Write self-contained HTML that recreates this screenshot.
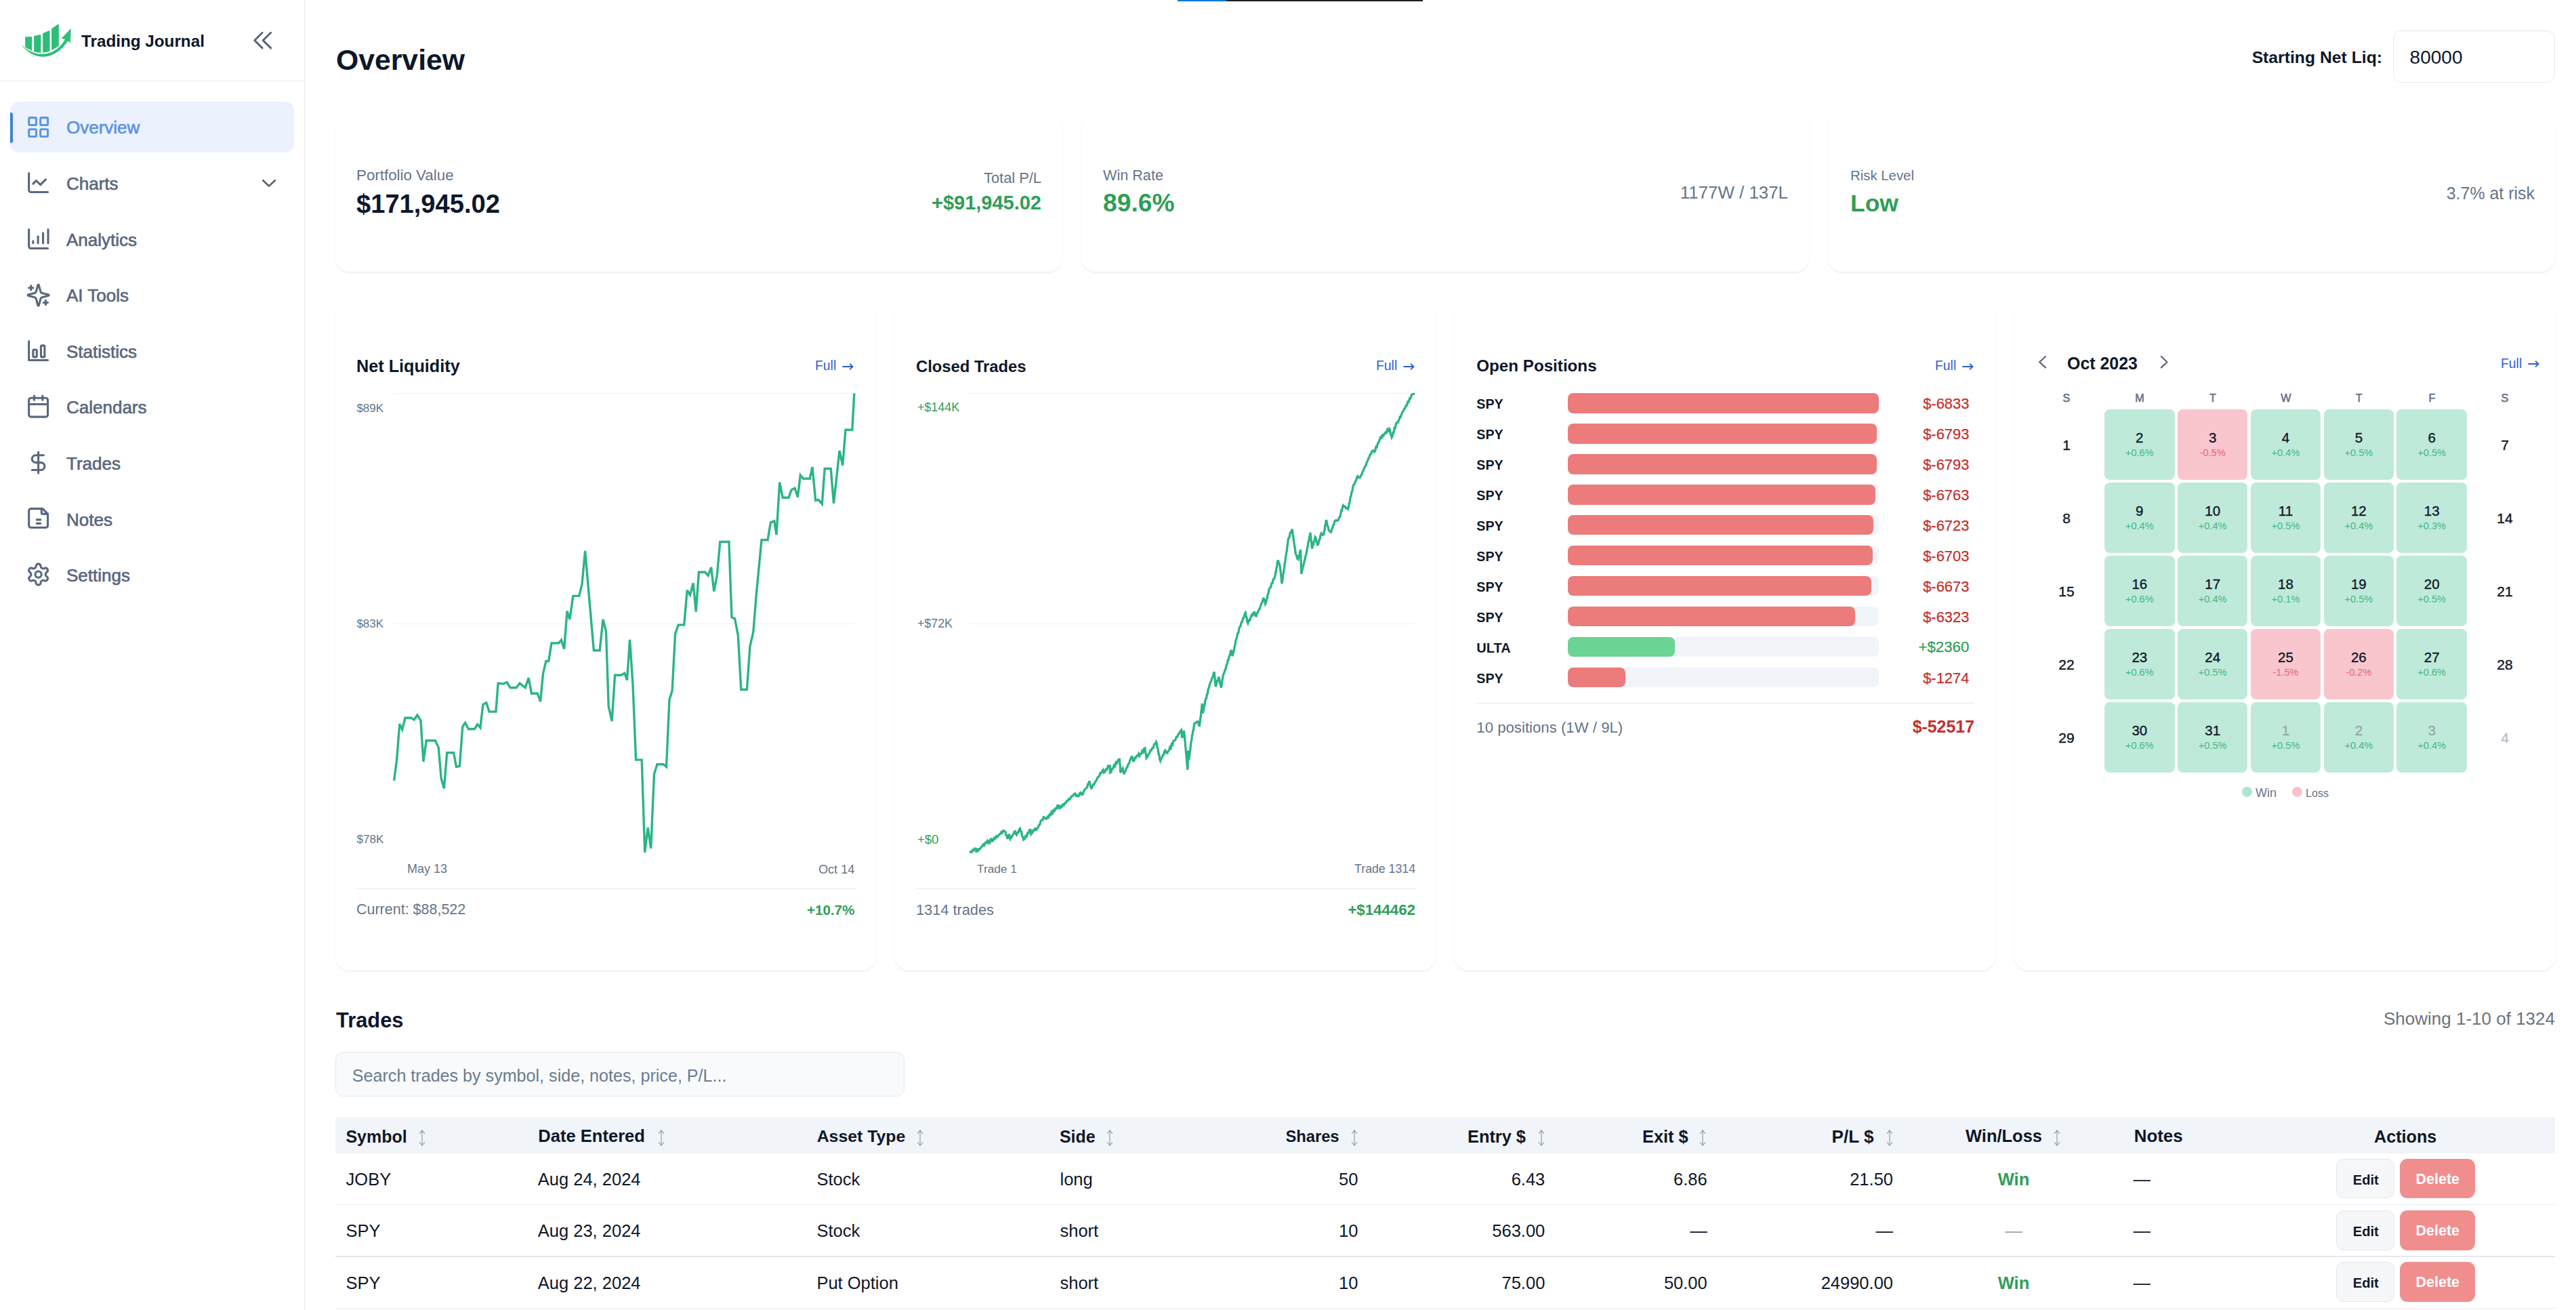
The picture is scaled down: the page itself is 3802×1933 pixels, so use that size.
<!DOCTYPE html>
<html lang="en"><head><meta charset="utf-8"><title>Trading Journal - Overview</title>
<style>
html,body{margin:0;padding:0;background:#fff;}
body{width:3802px;height:1933px;position:relative;overflow:hidden;font-family:"Liberation Sans", Arial, sans-serif;-webkit-font-smoothing:antialiased;}
.t{position:absolute;white-space:nowrap;}
.b{position:absolute;}
svg.b{overflow:visible;}
</style></head><body>
<div class="b" style="left:449.00px;top:0.00px;width:1.00px;height:1933.00px;background:#e5e7eb;"></div>
<div class="b" style="left:0.00px;top:119.00px;width:449.00px;height:1.00px;background:#e5e7eb;"></div>
<svg class="b" style="left:0;top:0" width="120" height="100" viewBox="0 0 120 100">
<g fill="#2dbe7a">
<path d="M37.1 54.5 L47.2 53.9 L47.2 74.9 Q41.5 72.8 37.1 69.6 Z"/>
<path d="M50.1 53.1 L60.3 51.1 L60.3 77.9 Q55 77.5 50.1 76.6 Z"/>
<path d="M63.1 49.1 L73.5 45 L73.5 75.6 Q68.5 77.3 63.1 77.8 Z"/>
<path d="M76.1 42.2 L86.8 35.1 L86.8 67.4 Q81.8 71.5 76.1 74.2 Z"/>
<path d="M30.6 65.2 C40 77.5 52 83.8 64 83.8 C78 83.6 91 75 100.8 59.6 L96.6 57.4 C88.5 71 77 79.2 63.5 79.8 C51.5 80.2 40.5 74.8 30.6 65.2 Z"/>
<path d="M90.8 56.4 L104.7 42 L103.8 63 L98.2 59.3 Z"/>
</g></svg>
<div class="t" style="top:49.46px;font-size:24.26px;line-height:24.26px;font-weight:700;color:#0f172a;left:120.00px;">Trading Journal</div>
<svg class="b" style="left:360px;top:35px" width="60" height="50" viewBox="360 35 60 50" fill="none" stroke="#5b6577" stroke-width="2.9" stroke-linecap="round" stroke-linejoin="round">
<polyline points="387.1,48.2 375.8,59.6 387.1,70.9"/><polyline points="399.7,48.2 388.2,59.6 399.7,70.9"/></svg>
<div class="b" style="left:15.00px;top:150.00px;width:419.00px;height:75.00px;background:#ebf2fd;border-radius:13px;"></div>
<div class="b" style="left:15.00px;top:165.50px;width:4.00px;height:45.00px;background:#3f7fe0;border-radius:0 3px 3px 0;"></div>
<div class="t" style="top:175.49px;font-size:26px;line-height:26px;font-weight:400;color:#5b91e4;left:98.00px;-webkit-text-stroke:0.65px #5b91e4;">Overview</div>
<div class="t" style="top:258.09px;font-size:26px;line-height:26px;font-weight:400;color:#5a677e;left:98.00px;-webkit-text-stroke:0.65px #5a677e;">Charts</div>
<div class="t" style="top:340.69px;font-size:26px;line-height:26px;font-weight:400;color:#5a677e;left:98.00px;-webkit-text-stroke:0.65px #5a677e;">Analytics</div>
<div class="t" style="top:423.29px;font-size:26px;line-height:26px;font-weight:400;color:#5a677e;left:98.00px;-webkit-text-stroke:0.65px #5a677e;">AI Tools</div>
<div class="t" style="top:505.89px;font-size:26px;line-height:26px;font-weight:400;color:#5a677e;left:98.00px;-webkit-text-stroke:0.65px #5a677e;">Statistics</div>
<div class="t" style="top:588.49px;font-size:26px;line-height:26px;font-weight:400;color:#5a677e;left:98.00px;-webkit-text-stroke:0.65px #5a677e;">Calendars</div>
<div class="t" style="top:671.09px;font-size:26px;line-height:26px;font-weight:400;color:#5a677e;left:98.00px;-webkit-text-stroke:0.65px #5a677e;">Trades</div>
<div class="t" style="top:753.69px;font-size:26px;line-height:26px;font-weight:400;color:#5a677e;left:98.00px;-webkit-text-stroke:0.65px #5a677e;">Notes</div>
<div class="t" style="top:836.29px;font-size:26px;line-height:26px;font-weight:400;color:#5a677e;left:98.00px;-webkit-text-stroke:0.65px #5a677e;">Settings</div>
<svg class="b" style="left:37.8px;top:168.60px" width="37.2" height="37.2" viewBox="0 0 24 24" fill="none" stroke="#5b96e6" stroke-width="2" stroke-linecap="round" stroke-linejoin="round"><rect x="3" y="3" width="7" height="7" rx="1"/><rect x="14" y="3" width="7" height="7" rx="1"/><rect x="14" y="14" width="7" height="7" rx="1"/><rect x="3" y="14" width="7" height="7" rx="1"/></svg>
<svg class="b" style="left:37.8px;top:251.40px" width="37.2" height="37.2" viewBox="0 0 24 24" fill="none" stroke="#5a677e" stroke-width="2" stroke-linecap="round" stroke-linejoin="round"><path d="M3 3v16a2 2 0 0 0 2 2h16"/><path d="m19 9-5 5-4-4-3 3"/></svg>
<svg class="b" style="left:37.8px;top:334.00px" width="37.2" height="37.2" viewBox="0 0 24 24" fill="none" stroke="#5a677e" stroke-width="2" stroke-linecap="round" stroke-linejoin="round"><path d="M3 3v16a2 2 0 0 0 2 2h16"/><path d="M7 16v-2"/><path d="M11.7 16v-6.5"/><path d="M16.5 16v-9.5"/><path d="M21.3 16v-13"/></svg>
<svg class="b" style="left:37.8px;top:416.60px" width="37.2" height="37.2" viewBox="0 0 24 24" fill="none" stroke="#5a677e" stroke-width="2" stroke-linecap="round" stroke-linejoin="round"><path d="M9.937 15.5A2 2 0 0 0 8.5 14.063l-6.135-1.582a.5.5 0 0 1 0-.962L8.5 9.936A2 2 0 0 0 9.937 8.5l1.582-6.135a.5.5 0 0 1 .963 0L14.063 8.5A2 2 0 0 0 15.5 9.937l6.135 1.581a.5.5 0 0 1 0 .964L15.5 14.063a2 2 0 0 0-1.437 1.437l-1.582 6.135a.5.5 0 0 1-.963 0z" transform="translate(0,0)"/><path d="M5 3v4"/><path d="M3 5h4"/><path d="M19 17v4"/><path d="M17 19h4"/></svg>
<svg class="b" style="left:37.8px;top:499.20px" width="37.2" height="37.2" viewBox="0 0 24 24" fill="none" stroke="#5a677e" stroke-width="2" stroke-linecap="round" stroke-linejoin="round"><path d="M3 3v18h18"/><rect x="7" y="11" width="3.5" height="7" rx="1"/><rect x="14.5" y="7" width="3.5" height="11" rx="1"/></svg>
<svg class="b" style="left:37.8px;top:580.60px" width="37.2" height="37.2" viewBox="0 0 24 24" fill="none" stroke="#5a677e" stroke-width="2" stroke-linecap="round" stroke-linejoin="round"><path d="M8 2v4"/><path d="M16 2v4"/><rect x="3" y="4" width="18" height="18" rx="2"/><path d="M3 10h18"/></svg>
<svg class="b" style="left:37.8px;top:663.80px" width="37.2" height="37.2" viewBox="0 0 24 24" fill="none" stroke="#5a677e" stroke-width="2" stroke-linecap="round" stroke-linejoin="round"><path d="M12 2v20"/><path d="M17 5H9.5a3.5 3.5 0 0 0 0 7h5a3.5 3.5 0 0 1 0 7H6"/></svg>
<svg class="b" style="left:37.8px;top:745.90px" width="37.2" height="37.2" viewBox="0 0 24 24" fill="none" stroke="#5a677e" stroke-width="2" stroke-linecap="round" stroke-linejoin="round"><path d="M16 3H5a2 2 0 0 0-2 2v14a2 2 0 0 0 2 2h14a2 2 0 0 0 2-2V8Z"/><path d="M15 3v4a1 1 0 0 0 1 1h5"/><path d="M10.5 13.5h3.5"/><path d="M10.5 17h3.5"/></svg>
<svg class="b" style="left:37.8px;top:829.00px" width="37.2" height="37.2" viewBox="0 0 24 24" fill="none" stroke="#5a677e" stroke-width="2" stroke-linecap="round" stroke-linejoin="round"><path d="M12.22 2h-.44a2 2 0 0 0-2 2v.18a2 2 0 0 1-1 1.73l-.43.25a2 2 0 0 1-2 0l-.15-.08a2 2 0 0 0-2.73.73l-.22.38a2 2 0 0 0 .73 2.73l.15.1a2 2 0 0 1 1 1.72v.51a2 2 0 0 1-1 1.74l-.15.09a2 2 0 0 0-.73 2.73l.22.38a2 2 0 0 0 2.73.73l.15-.08a2 2 0 0 1 2 0l.43.25a2 2 0 0 1 1 1.73V20a2 2 0 0 0 2 2h.44a2 2 0 0 0 2-2v-.18a2 2 0 0 1 1-1.73l.43-.25a2 2 0 0 1 2 0l.15.08a2 2 0 0 0 2.73-.73l.22-.39a2 2 0 0 0-.73-2.73l-.15-.08a2 2 0 0 1-1-1.74v-.5a2 2 0 0 1 1-1.74l.15-.09a2 2 0 0 0 .73-2.73l-.22-.38a2 2 0 0 0-2.73-.73l-.15.08a2 2 0 0 1-2 0l-.43-.25a2 2 0 0 1-1-1.73V4a2 2 0 0 0-2-2z"/><circle cx="12" cy="12" r="3"/></svg>
<svg class="b" style="left:380px;top:255px" width="34" height="30" viewBox="380 255 34 30" fill="none" stroke="#555e70" stroke-width="2.6" stroke-linecap="round" stroke-linejoin="round"><polyline points="388.3,266.2 396.9,274.6 405.9,266.2"/></svg>
<div class="b" style="left:1738.00px;top:0.00px;width:362.00px;height:2.00px;background:#1f1f1f;"></div>
<div class="b" style="left:1738.00px;top:0.00px;width:72.00px;height:2.00px;background:#0078d7;"></div>
<div class="t" style="top:66.84px;font-size:42.72px;line-height:42.72px;font-weight:700;color:#0f172a;left:496.00px;">Overview</div>
<div class="t" style="top:73.46px;font-size:24.74px;line-height:24.74px;font-weight:700;color:#0f172a;right:286.00px;text-align:right;">Starting Net Liq:</div>
<div class="b" style="left:3532.00px;top:45.00px;width:239.00px;height:76.50px;border:1px solid #e5e7eb;border-radius:12px;box-sizing:border-box;background:#fff;"></div>
<div class="t" style="top:71.30px;font-size:28px;line-height:28px;font-weight:400;color:#0f172a;left:3556.60px;">80000</div>
<div class="b" style="left:495.00px;top:168.00px;width:1073.30px;height:233.00px;background:#fff;border-radius:21px;box-shadow:0 2px 3.5px rgba(0,0,0,0.055),0 0.6px 1px rgba(0,0,0,0.03);"></div>
<div class="b" style="left:1596.30px;top:168.00px;width:1073.30px;height:233.00px;background:#fff;border-radius:21px;box-shadow:0 2px 3.5px rgba(0,0,0,0.055),0 0.6px 1px rgba(0,0,0,0.03);"></div>
<div class="b" style="left:2697.70px;top:168.00px;width:1073.30px;height:233.00px;background:#fff;border-radius:21px;box-shadow:0 2px 3.5px rgba(0,0,0,0.055),0 0.6px 1px rgba(0,0,0,0.03);"></div>
<div class="t" style="top:248.10px;font-size:22.33px;line-height:22.33px;font-weight:400;color:#64748b;left:526.00px;">Portfolio Value</div>
<div class="t" style="top:281.73px;font-size:38.12px;line-height:38.12px;font-weight:700;color:#0f172a;left:526.00px;">$171,945.02</div>
<div class="t" style="top:252.01px;font-size:21.84px;line-height:21.84px;font-weight:400;color:#64748b;right:2265.00px;text-align:right;">Total P/L</div>
<div class="t" style="top:285.46px;font-size:28.99px;line-height:28.99px;font-weight:700;color:#2f9e58;right:2265.00px;text-align:right;">+$91,945.02</div>
<div class="t" style="top:247.98px;font-size:21.64px;line-height:21.64px;font-weight:400;color:#64748b;left:1628.00px;">Win Rate</div>
<div class="t" style="top:280.90px;font-size:37.21px;line-height:37.21px;font-weight:700;color:#2f9e58;left:1628.00px;">89.6%</div>
<div class="t" style="top:272.08px;font-size:25.89px;line-height:25.89px;font-weight:400;color:#64748b;right:1163.00px;text-align:right;">1177W / 137L</div>
<div class="t" style="top:249.45px;font-size:20.38px;line-height:20.38px;font-weight:400;color:#64748b;left:2731.00px;">Risk Level</div>
<div class="t" style="top:283.24px;font-size:35.51px;line-height:35.51px;font-weight:700;color:#2f9e58;left:2731.00px;">Low</div>
<div class="t" style="top:272.59px;font-size:24.94px;line-height:24.94px;font-weight:400;color:#64748b;right:61.00px;text-align:right;">3.7% at risk</div>
<div class="b" style="left:495.00px;top:449.00px;width:798.00px;height:983.00px;background:#fff;border-radius:21px;box-shadow:0 2px 3.5px rgba(0,0,0,0.055),0 0.6px 1px rgba(0,0,0,0.03);"></div>
<div class="b" style="left:1321.00px;top:449.00px;width:798.00px;height:983.00px;background:#fff;border-radius:21px;box-shadow:0 2px 3.5px rgba(0,0,0,0.055),0 0.6px 1px rgba(0,0,0,0.03);"></div>
<div class="b" style="left:2147.00px;top:449.00px;width:798.00px;height:983.00px;background:#fff;border-radius:21px;box-shadow:0 2px 3.5px rgba(0,0,0,0.055),0 0.6px 1px rgba(0,0,0,0.03);"></div>
<div class="b" style="left:2973.00px;top:449.00px;width:798.00px;height:983.00px;background:#fff;border-radius:21px;box-shadow:0 2px 3.5px rgba(0,0,0,0.055),0 0.6px 1px rgba(0,0,0,0.03);"></div>
<div class="t" style="top:528.14px;font-size:25.23px;line-height:25.23px;font-weight:700;color:#0f172a;left:526.00px;">Net Liquidity</div>
<div class="t" style="top:530.31px;font-size:19.36px;line-height:19.36px;font-weight:400;color:#2d5fd3;left:1203.00px;">Full</div>
<svg class="b" style="left:1242.4px;top:534.8px" width="18" height="12" viewBox="0 0 18 12" fill="none" stroke="#2d5fd3" stroke-width="1.9" stroke-linecap="round" stroke-linejoin="round"><path d="M2 6h14.5"/><path d="M12.6 2.2 16.4 6 12.6 9.8"/></svg>
<div class="b" style="left:581.00px;top:580.00px;width:680.00px;height:1.20px;background:#eef0f3;"></div>
<div class="b" style="left:581.00px;top:919.50px;width:680.00px;height:1.20px;background:#eef0f3;"></div>
<div class="t" style="top:593.51px;font-size:17.0px;line-height:17.0px;font-weight:400;color:#64748b;left:526.40px;">$89K</div>
<div class="t" style="top:911.91px;font-size:17.0px;line-height:17.0px;font-weight:400;color:#64748b;left:526.40px;">$83K</div>
<div class="t" style="top:1230.07px;font-size:17.17px;line-height:17.17px;font-weight:400;color:#64748b;left:526.40px;">$78K</div>
<div class="t" style="top:1273.47px;font-size:17.99px;line-height:17.99px;font-weight:400;color:#64748b;left:601.00px;">May 13</div>
<div class="t" style="top:1273.65px;font-size:18.13px;line-height:18.13px;font-weight:400;color:#64748b;right:2540.70px;text-align:right;">Oct 14</div>
<div class="b" style="left:526.00px;top:1310.60px;width:735.50px;height:1.20px;background:#e5e7eb;"></div>
<div class="t" style="top:1332.41px;font-size:21.49px;line-height:21.49px;font-weight:400;color:#64748b;left:526.00px;">Current: $88,522</div>
<div class="t" style="top:1333.27px;font-size:20.59px;line-height:20.59px;font-weight:700;color:#2f9e58;right:2540.70px;text-align:right;">+10.7%</div>
<svg class="b" style="left:0;top:0" width="3802" height="1933" viewBox="0 0 3802 1933" fill="none"><polyline points="581.6,1151.9 585.5,1122.3 589.8,1068.2 593.7,1076.4 598.0,1059.3 606.8,1059.3 611.1,1061.9 616.0,1055.0 621.0,1063.2 624.9,1124.0 629.2,1092.8 642.3,1092.8 647.2,1102.6 651.2,1148.6 655.4,1163.4 659.7,1110.8 669.6,1110.8 673.5,1131.5 678.4,1130.5 682.7,1072.4 686.6,1066.5 691.5,1075.7 700.4,1075.7 704.7,1068.8 708.9,1073.7 712.9,1039.6 717.8,1037.0 722.1,1050.1 731.9,1050.1 735.2,1008.1 742.4,1009.1 748.3,1006.8 752.9,1014.7 762.1,1014.7 767.1,1008.1 775.3,1014.7 780.2,1000.2 784.5,1023.2 793.3,1023.2 797.6,1035.3 801.5,994.3 805.8,975.6 809.7,975.6 814.0,949.0 824.5,949.0 828.4,944.4 832.7,957.5 837.0,901.7 840.9,913.9 845.8,879.4 854.7,879.4 859.0,862.3 863.6,812.8 876.4,959.8 885.2,959.8 890.0,913.9 894.5,931.5 898.2,1041.8 903.1,1064.2 907.6,996.2 916.9,996.2 921.8,993.2 925.5,1003.6 929.6,943.8 934.1,1011.9 938.6,1121.1 947.2,1121.1 951.7,1257.9 956.2,1221.3 960.7,1252.0 965.5,1142.0 970.0,1127.8 979.0,1127.8 983.5,1131.5 988.0,1032.4 992.1,1019.3 996.6,935.2 1001.1,922.1 1009.7,922.1 1014.2,870.9 1018.6,878.0 1023.1,860.4 1027.2,902.7 1031.4,844.3 1040.7,844.3 1045.2,849.2 1049.7,837.2 1053.8,872.7 1058.3,849.2 1062.8,799.4 1075.9,799.4 1080.0,910.9 1084.5,912.8 1089.3,937.1 1093.8,1017.5 1102.4,1017.5 1106.9,953.9 1111.8,932.6 1116.3,877.2 1124.0,796.7 1133.1,796.7 1137.4,771.0 1142.8,768.9 1146.0,789.2 1150.7,711.6 1155.2,734.2 1164.2,734.2 1168.0,722.9 1173.1,720.3 1177.4,733.6 1181.3,700.9 1185.5,706.2 1195.2,706.2 1199.0,689.1 1203.7,738.5 1208.0,737.5 1213.3,743.7 1217.2,691.5 1226.2,691.5 1230.5,742.8 1239.0,665.2 1243.7,686.6 1248.0,634.2 1257.8,634.2 1260.8,580.3" stroke="#2bb584" stroke-width="3.4" stroke-linejoin="miter" stroke-miterlimit="3" stroke-linecap="butt"/></svg>
<div class="t" style="top:529.36px;font-size:23.79px;line-height:23.79px;font-weight:700;color:#0f172a;left:1352.00px;">Closed Trades</div>
<div class="t" style="top:530.31px;font-size:19.36px;line-height:19.36px;font-weight:400;color:#2d5fd3;left:2031.00px;">Full</div>
<svg class="b" style="left:2070.4px;top:534.8px" width="18" height="12" viewBox="0 0 18 12" fill="none" stroke="#2d5fd3" stroke-width="1.9" stroke-linecap="round" stroke-linejoin="round"><path d="M2 6h14.5"/><path d="M12.6 2.2 16.4 6 12.6 9.8"/></svg>
<div class="b" style="left:1431.00px;top:580.00px;width:658.00px;height:1.20px;background:#eef0f3;"></div>
<div class="b" style="left:1431.00px;top:919.80px;width:658.00px;height:1.20px;background:#eef0f3;"></div>
<div class="t" style="top:592.85px;font-size:17.9px;line-height:17.9px;font-weight:400;color:#2f9e58;left:1353.90px;">+$144K</div>
<div class="t" style="top:911.89px;font-size:17.85px;line-height:17.85px;font-weight:400;color:#64748b;left:1353.90px;">+$72K</div>
<div class="t" style="top:1229.78px;font-size:18.57px;line-height:18.57px;font-weight:400;color:#2f9e58;left:1353.90px;">+$0</div>
<div class="t" style="top:1274.10px;font-size:17.25px;line-height:17.25px;font-weight:400;color:#64748b;left:1442.00px;">Trade 1</div>
<div class="t" style="top:1274.00px;font-size:17.72px;line-height:17.72px;font-weight:400;color:#64748b;right:1713.00px;text-align:right;">Trade 1314</div>
<div class="b" style="left:1352.00px;top:1310.60px;width:737.00px;height:1.20px;background:#e5e7eb;"></div>
<div class="t" style="top:1332.17px;font-size:21.77px;line-height:21.77px;font-weight:400;color:#64748b;left:1352.00px;">1314 trades</div>
<div class="t" style="top:1331.87px;font-size:22.25px;line-height:22.25px;font-weight:700;color:#2f9e58;right:1713.00px;text-align:right;">+$144462</div>
<svg class="b" style="left:0;top:0" width="3802" height="1933" viewBox="0 0 3802 1933" fill="none"><polyline points="1431.3,1258.6 1432.8,1256.7 1434.3,1257.1 1435.7,1254.1 1437.2,1254.9 1438.7,1252.2 1440.2,1253.3 1441.6,1251.4 1440.6,1257.6 1442.1,1255.7 1443.6,1255.7 1445.1,1252.7 1446.6,1252.6 1448.1,1249.7 1449.6,1249.0 1451.1,1246.1 1452.6,1247.3 1454.1,1243.6 1455.6,1243.3 1457.1,1241.1 1458.1,1245.2 1459.4,1242.0 1460.7,1243.5 1462.0,1238.5 1463.3,1238.0 1464.3,1241.1 1465.8,1240.7 1467.4,1236.4 1468.9,1237.3 1470.5,1233.8 1472.0,1235.0 1473.6,1232.8 1475.0,1230.9 1476.5,1230.5 1477.9,1227.7 1479.3,1228.8 1480.8,1225.6 1482.3,1226.1 1483.9,1227.7 1484.9,1232.4 1485.9,1233.2 1487.0,1238.0 1488.0,1235.3 1489.0,1230.8 1490.1,1233.2 1491.1,1238.0 1492.5,1236.1 1494.0,1233.1 1495.4,1231.8 1496.9,1227.5 1498.3,1226.7 1499.3,1230.3 1500.4,1231.8 1501.7,1228.7 1502.9,1228.5 1504.2,1223.8 1505.5,1222.5 1506.5,1226.6 1507.6,1227.5 1508.6,1233.9 1509.6,1235.0 1510.7,1239.0 1512.1,1238.2 1513.6,1233.7 1515.1,1234.6 1516.6,1229.2 1518.0,1229.5 1519.5,1224.7 1521.0,1224.6 1522.0,1230.8 1523.5,1229.0 1525.1,1225.1 1526.6,1225.4 1528.2,1221.5 1529.2,1225.6 1530.6,1222.5 1532.0,1221.6 1533.3,1217.5 1534.7,1216.8 1536.1,1211.2 1537.5,1210.2 1538.8,1210.1 1540.2,1205.6 1541.6,1206.1 1543.1,1207.9 1544.7,1208.1 1546.1,1205.0 1547.6,1206.2 1549.0,1201.9 1550.5,1202.7 1552.0,1198.2 1553.4,1200.2 1554.9,1195.6 1556.3,1196.5 1557.8,1193.0 1559.3,1193.3 1560.7,1188.8 1562.2,1188.5 1563.2,1192.6 1564.2,1192.7 1565.7,1189.5 1567.2,1190.5 1568.7,1187.2 1570.2,1188.1 1571.7,1184.8 1573.2,1184.8 1574.7,1181.6 1576.2,1181.2 1577.7,1178.8 1579.2,1179.3 1580.7,1176.2 1582.3,1174.4 1583.8,1174.3 1585.4,1171.4 1586.9,1171.0 1588.3,1174.2 1589.7,1173.3 1591.0,1175.1 1592.4,1174.3 1593.8,1170.1 1595.1,1169.4 1596.7,1172.5 1598.2,1172.1 1599.8,1166.8 1601.3,1164.8 1603.4,1162.8 1604.5,1162.0 1605.7,1156.9 1606.8,1156.1 1607.9,1152.5 1608.7,1155.7 1609.6,1160.7 1610.8,1163.0 1612.0,1161.8 1613.5,1157.3 1615.0,1157.2 1616.5,1153.4 1618.0,1152.1 1619.4,1148.2 1620.9,1146.3 1622.3,1145.4 1623.8,1140.9 1625.2,1140.9 1626.7,1137.8 1628.1,1136.0 1629.1,1140.1 1630.7,1139.2 1632.2,1135.4 1633.8,1135.7 1635.3,1130.6 1636.9,1132.1 1638.4,1128.8 1638.4,1133.3 1638.4,1140.1 1639.8,1139.3 1641.3,1134.3 1642.7,1133.9 1644.1,1129.5 1645.5,1130.8 1646.9,1125.2 1648.3,1126.5 1649.8,1122.6 1651.1,1120.6 1652.4,1120.5 1652.8,1126.4 1653.2,1129.9 1653.5,1136.6 1653.9,1140.1 1655.4,1136.6 1657.0,1133.9 1658.0,1138.5 1659.0,1142.2 1660.2,1138.9 1661.4,1137.5 1662.6,1133.4 1663.7,1132.0 1664.9,1128.6 1666.1,1126.8 1667.3,1123.6 1668.3,1120.4 1669.3,1119.1 1670.4,1115.4 1671.4,1118.7 1672.4,1122.6 1673.8,1122.7 1675.2,1117.8 1676.5,1118.0 1677.9,1115.0 1679.3,1114.9 1680.7,1112.3 1681.7,1115.4 1683.1,1112.6 1684.4,1112.1 1685.8,1108.0 1687.2,1109.8 1688.6,1104.9 1689.9,1104.1 1690.6,1110.0 1691.3,1113.2 1692.0,1118.5 1693.4,1116.6 1694.9,1112.9 1696.3,1112.1 1697.8,1107.3 1699.2,1107.2 1700.7,1103.9 1702.1,1103.8 1703.5,1098.3 1705.0,1097.7 1706.4,1094.8 1707.3,1097.5 1708.2,1103.1 1709.1,1105.5 1710.0,1112.6 1710.8,1112.9 1711.7,1120.1 1712.6,1122.6 1713.8,1119.3 1715.0,1118.4 1716.2,1114.3 1717.4,1113.9 1718.6,1108.5 1719.8,1107.2 1721.4,1110.8 1722.9,1111.3 1724.2,1108.1 1725.5,1107.3 1726.8,1102.6 1728.1,1104.0 1729.3,1097.9 1730.6,1099.0 1731.9,1093.4 1733.2,1092.7 1734.7,1092.1 1736.2,1087.6 1737.6,1087.3 1739.1,1083.0 1740.6,1082.0 1742.0,1079.1 1743.5,1077.3 1743.9,1081.8 1744.2,1084.1 1744.5,1088.6 1745.6,1086.6 1746.6,1079.8 1747.6,1078.3 1748.0,1083.8 1748.4,1085.3 1748.8,1093.6 1749.2,1094.1 1749.6,1101.4 1750.0,1104.3 1750.4,1110.1 1750.8,1113.2 1751.2,1118.9 1751.6,1121.3 1752.0,1129.0 1752.4,1129.8 1752.8,1136.0 1753.0,1132.3 1753.1,1125.0 1753.3,1123.2 1753.5,1116.3 1753.6,1113.4 1753.8,1107.2 1754.2,1110.1 1754.5,1118.4 1754.8,1121.6 1755.4,1115.5 1755.9,1113.8 1756.4,1107.6 1756.9,1105.4 1757.4,1098.4 1757.9,1094.8 1758.7,1092.5 1759.4,1084.9 1760.1,1083.8 1760.9,1077.9 1761.6,1076.8 1762.4,1069.4 1763.1,1067.0 1764.8,1066.9 1766.5,1065.1 1768.2,1064.9 1769.3,1069.1 1770.3,1072.1 1770.8,1066.0 1771.3,1065.3 1771.8,1058.8 1772.4,1056.8 1772.9,1048.9 1773.4,1048.0 1773.9,1041.5 1774.4,1038.1 1774.8,1044.2 1775.1,1047.2 1775.5,1052.5 1776.2,1048.7 1777.0,1042.4 1777.8,1041.6 1778.5,1036.1 1779.5,1031.3 1780.4,1030.8 1781.4,1024.4 1782.3,1023.6 1783.2,1016.6 1784.2,1015.4 1785.1,1011.2 1786.3,1007.2 1787.5,1005.4 1788.7,1000.6 1789.9,999.3 1791.1,994.0 1792.3,991.4 1792.6,996.8 1793.0,999.5 1793.4,1006.2 1793.7,1007.8 1794.1,1013.0 1795.2,1010.5 1796.4,1004.5 1797.6,1004.0 1798.7,998.6 1799.6,1001.6 1800.5,1008.6 1801.4,1009.6 1802.3,1014.8 1803.0,1011.9 1803.6,1005.5 1804.2,1003.0 1804.8,998.6 1805.9,994.3 1806.9,992.7 1808.0,988.5 1809.0,987.1 1810.1,981.6 1811.1,980.0 1812.2,974.1 1813.2,973.6 1814.3,968.2 1815.3,966.9 1816.3,961.2 1817.4,959.2 1818.3,965.3 1819.2,968.1 1820.1,963.5 1821.0,961.0 1821.9,954.9 1822.8,952.2 1823.7,945.6 1824.6,943.0 1825.6,940.6 1826.7,934.6 1827.8,933.9 1828.9,926.8 1829.9,925.1 1831.1,923.2 1832.3,917.8 1833.5,917.3 1834.7,912.0 1835.8,911.7 1837.0,906.2 1838.2,904.3 1839.1,909.4 1840.0,910.9 1840.9,917.8 1841.8,919.7 1843.2,915.2 1844.6,915.5 1846.1,910.7 1847.4,907.1 1848.8,907.9 1850.1,904.1 1851.5,903.6 1852.7,908.2 1854.0,909.0 1855.3,904.4 1856.6,903.7 1857.8,899.8 1859.1,898.5 1860.4,894.6 1861.6,891.0 1862.8,889.0 1863.9,884.8 1865.1,882.1 1865.9,886.5 1866.8,886.4 1867.6,891.0 1868.5,889.5 1869.4,883.8 1870.4,882.5 1871.3,876.3 1872.2,874.9 1873.1,869.2 1874.1,867.7 1875.4,866.7 1876.7,861.1 1878.0,860.7 1879.3,854.8 1880.6,853.9 1882.0,849.8 1882.7,843.9 1883.4,843.7 1884.1,837.5 1884.8,835.3 1885.5,829.2 1886.3,826.5 1887.2,830.3 1888.2,831.8 1889.1,835.4 1889.6,840.6 1890.1,842.5 1890.6,848.7 1891.0,851.4 1891.5,858.0 1892.0,861.2 1892.6,856.7 1893.2,853.7 1893.8,847.3 1894.4,845.7 1895.0,839.9 1895.6,838.1 1896.2,830.3 1896.8,829.7 1897.4,823.0 1898.0,820.1 1898.7,814.8 1899.3,812.6 1899.9,806.0 1900.5,803.1 1901.1,797.3 1901.7,794.2 1903.0,792.7 1904.4,785.8 1905.7,785.0 1907.1,780.9 1907.7,784.4 1908.3,790.9 1908.9,791.8 1909.5,798.7 1910.0,800.8 1910.6,805.7 1911.2,807.9 1911.8,814.4 1912.4,817.5 1913.6,819.7 1914.8,824.6 1916.0,825.4 1916.9,820.4 1917.8,819.9 1918.7,814.2 1919.6,811.0 1919.7,817.3 1919.9,819.6 1920.0,826.3 1920.2,827.9 1920.3,834.3 1920.4,836.7 1920.6,844.3 1920.7,846.9 1921.6,842.5 1922.4,840.1 1923.3,834.7 1924.2,832.9 1925.1,828.1 1925.9,825.5 1926.8,820.8 1927.7,818.2 1928.6,813.9 1929.3,809.1 1930.1,806.7 1930.9,800.3 1931.7,798.7 1932.4,792.8 1933.2,790.5 1934.0,785.9 1934.5,789.8 1935.0,795.7 1935.5,799.4 1936.0,805.2 1936.5,809.6 1937.4,804.6 1938.3,803.9 1939.3,798.6 1940.2,796.9 1941.1,792.4 1942.0,793.6 1942.9,799.1 1943.8,800.1 1944.7,804.9 1945.8,802.4 1946.9,796.6 1947.9,795.9 1949.0,789.6 1950.1,787.0 1951.9,789.1 1953.7,788.8 1954.4,783.0 1955.1,782.2 1955.8,775.0 1956.6,773.3 1957.3,767.3 1958.2,769.4 1959.1,775.8 1960.0,777.0 1960.9,781.6 1962.7,784.3 1964.4,785.2 1965.5,781.6 1966.6,779.3 1967.7,775.1 1968.8,773.9 1969.8,769.1 1971.6,767.7 1973.4,768.4 1975.2,767.3 1976.4,763.8 1977.6,763.0 1978.8,758.3 1979.7,753.4 1980.6,753.5 1981.5,748.1 1982.4,745.8 1983.8,747.5 1985.3,747.1 1986.7,750.1 1988.1,749.5 1989.6,751.1 1990.5,748.2 1991.3,742.3 1992.2,741.0 1993.1,733.0 1994.0,732.2 1994.9,726.2 1995.8,724.8 1996.7,718.9 1997.9,715.3 1999.1,714.4 2000.3,710.5 2001.5,709.0 2002.7,704.3 2003.9,702.7 2005.7,704.8 2007.5,704.5 2008.7,701.2 2009.9,700.3 2011.1,696.1 2012.3,694.5 2013.5,690.6 2014.7,688.4 2015.9,686.6 2017.2,682.4 2018.4,680.4 2019.7,676.4 2020.9,675.2 2022.2,670.4 2023.5,670.1 2024.7,666.1 2026.5,664.9 2028.3,666.8 2029.6,665.3 2030.9,659.3 2032.2,659.7 2033.6,653.9 2034.9,652.8 2036.2,648.9 2037.6,645.1 2039.1,645.9 2040.5,642.0 2041.9,643.1 2043.4,639.9 2044.8,638.1 2046.2,638.8 2047.7,633.8 2049.1,635.6 2050.5,632.8 2051.4,634.4 2052.3,640.7 2053.2,641.6 2054.1,645.3 2055.1,643.4 2056.2,638.0 2057.2,637.8 2058.2,631.4 2059.2,631.7 2060.3,625.6 2061.3,623.8 2063.1,623.5 2064.9,619.5 2066.1,615.3 2067.3,615.5 2068.5,611.2 2069.8,608.1 2071.2,606.6 2072.5,603.3 2073.8,602.2 2075.2,598.4 2076.5,598.1 2077.9,592.6 2079.2,592.8 2080.6,587.6 2081.9,587.9 2083.3,582.8 2084.6,581.5 2086.4,581.4 2088.2,580.8" stroke="#2bb584" stroke-width="3.3" stroke-linejoin="miter" stroke-miterlimit="3" stroke-linecap="butt"/></svg>
<div class="t" style="top:527.83px;font-size:24.18px;line-height:24.18px;font-weight:700;color:#0f172a;left:2179.30px;">Open Positions</div>
<div class="t" style="top:530.31px;font-size:19.36px;line-height:19.36px;font-weight:400;color:#2d5fd3;left:2856.00px;">Full</div>
<svg class="b" style="left:2895.4px;top:534.8px" width="18" height="12" viewBox="0 0 18 12" fill="none" stroke="#2d5fd3" stroke-width="1.9" stroke-linecap="round" stroke-linejoin="round"><path d="M2 6h14.5"/><path d="M12.6 2.2 16.4 6 12.6 9.8"/></svg>
<div class="b" style="left:2313.90px;top:580.00px;width:458.80px;height:29.70px;background:#f1f4f8;border-radius:8px;"></div>
<div class="b" style="left:2313.90px;top:580.00px;width:458.80px;height:29.70px;background:#ec7b7b;border-radius:8px;"></div>
<div class="t" style="top:587.20px;font-size:19.61px;line-height:19.61px;font-weight:700;color:#0f172a;left:2179.30px;">SPY</div>
<div class="t" style="top:585.04px;font-size:21.93px;line-height:21.93px;font-weight:400;color:#c52f2f;right:895.60px;text-align:right;-webkit-text-stroke:0.25px currentColor;">$-6833</div>
<div class="b" style="left:2313.90px;top:624.95px;width:458.80px;height:29.70px;background:#f1f4f8;border-radius:8px;"></div>
<div class="b" style="left:2313.90px;top:624.95px;width:456.11px;height:29.70px;background:#ec7b7b;border-radius:8px;"></div>
<div class="t" style="top:632.15px;font-size:19.61px;line-height:19.61px;font-weight:700;color:#0f172a;left:2179.30px;">SPY</div>
<div class="t" style="top:629.99px;font-size:21.93px;line-height:21.93px;font-weight:400;color:#c52f2f;right:895.60px;text-align:right;-webkit-text-stroke:0.25px currentColor;">$-6793</div>
<div class="b" style="left:2313.90px;top:669.90px;width:458.80px;height:29.70px;background:#f1f4f8;border-radius:8px;"></div>
<div class="b" style="left:2313.90px;top:669.90px;width:456.11px;height:29.70px;background:#ec7b7b;border-radius:8px;"></div>
<div class="t" style="top:677.10px;font-size:19.61px;line-height:19.61px;font-weight:700;color:#0f172a;left:2179.30px;">SPY</div>
<div class="t" style="top:674.94px;font-size:21.93px;line-height:21.93px;font-weight:400;color:#c52f2f;right:895.60px;text-align:right;-webkit-text-stroke:0.25px currentColor;">$-6793</div>
<div class="b" style="left:2313.90px;top:714.85px;width:458.80px;height:29.70px;background:#f1f4f8;border-radius:8px;"></div>
<div class="b" style="left:2313.90px;top:714.85px;width:454.10px;height:29.70px;background:#ec7b7b;border-radius:8px;"></div>
<div class="t" style="top:722.05px;font-size:19.61px;line-height:19.61px;font-weight:700;color:#0f172a;left:2179.30px;">SPY</div>
<div class="t" style="top:719.89px;font-size:21.93px;line-height:21.93px;font-weight:400;color:#c52f2f;right:895.60px;text-align:right;-webkit-text-stroke:0.25px currentColor;">$-6763</div>
<div class="b" style="left:2313.90px;top:759.80px;width:458.80px;height:29.70px;background:#f1f4f8;border-radius:8px;"></div>
<div class="b" style="left:2313.90px;top:759.80px;width:451.41px;height:29.70px;background:#ec7b7b;border-radius:8px;"></div>
<div class="t" style="top:767.00px;font-size:19.61px;line-height:19.61px;font-weight:700;color:#0f172a;left:2179.30px;">SPY</div>
<div class="t" style="top:764.84px;font-size:21.93px;line-height:21.93px;font-weight:400;color:#c52f2f;right:895.60px;text-align:right;-webkit-text-stroke:0.25px currentColor;">$-6723</div>
<div class="b" style="left:2313.90px;top:804.75px;width:458.80px;height:29.70px;background:#f1f4f8;border-radius:8px;"></div>
<div class="b" style="left:2313.90px;top:804.75px;width:450.07px;height:29.70px;background:#ec7b7b;border-radius:8px;"></div>
<div class="t" style="top:811.95px;font-size:19.61px;line-height:19.61px;font-weight:700;color:#0f172a;left:2179.30px;">SPY</div>
<div class="t" style="top:809.79px;font-size:21.93px;line-height:21.93px;font-weight:400;color:#c52f2f;right:895.60px;text-align:right;-webkit-text-stroke:0.25px currentColor;">$-6703</div>
<div class="b" style="left:2313.90px;top:849.70px;width:458.80px;height:29.70px;background:#f1f4f8;border-radius:8px;"></div>
<div class="b" style="left:2313.90px;top:849.70px;width:448.06px;height:29.70px;background:#ec7b7b;border-radius:8px;"></div>
<div class="t" style="top:856.90px;font-size:19.61px;line-height:19.61px;font-weight:700;color:#0f172a;left:2179.30px;">SPY</div>
<div class="t" style="top:854.74px;font-size:21.93px;line-height:21.93px;font-weight:400;color:#c52f2f;right:895.60px;text-align:right;-webkit-text-stroke:0.25px currentColor;">$-6673</div>
<div class="b" style="left:2313.90px;top:894.65px;width:458.80px;height:29.70px;background:#f1f4f8;border-radius:8px;"></div>
<div class="b" style="left:2313.90px;top:894.65px;width:424.56px;height:29.70px;background:#ec7b7b;border-radius:8px;"></div>
<div class="t" style="top:901.85px;font-size:19.61px;line-height:19.61px;font-weight:700;color:#0f172a;left:2179.30px;">SPY</div>
<div class="t" style="top:899.69px;font-size:21.93px;line-height:21.93px;font-weight:400;color:#c52f2f;right:895.60px;text-align:right;-webkit-text-stroke:0.25px currentColor;">$-6323</div>
<div class="b" style="left:2313.90px;top:939.60px;width:458.80px;height:29.70px;background:#f1f4f8;border-radius:8px;"></div>
<div class="b" style="left:2313.90px;top:939.60px;width:158.46px;height:29.70px;background:#6cd494;border-radius:8px;"></div>
<div class="t" style="top:946.45px;font-size:20.02px;line-height:20.02px;font-weight:700;color:#0f172a;left:2179.30px;">ULTA</div>
<div class="t" style="top:944.33px;font-size:22.29px;line-height:22.29px;font-weight:400;color:#2f9e58;right:895.60px;text-align:right;-webkit-text-stroke:0.25px currentColor;">+$2360</div>
<div class="b" style="left:2313.90px;top:984.55px;width:458.80px;height:29.70px;background:#f1f4f8;border-radius:8px;"></div>
<div class="b" style="left:2313.90px;top:984.55px;width:85.54px;height:29.70px;background:#ec7b7b;border-radius:8px;"></div>
<div class="t" style="top:991.75px;font-size:19.61px;line-height:19.61px;font-weight:700;color:#0f172a;left:2179.30px;">SPY</div>
<div class="t" style="top:989.59px;font-size:21.93px;line-height:21.93px;font-weight:400;color:#c52f2f;right:895.60px;text-align:right;-webkit-text-stroke:0.25px currentColor;">$-1274</div>
<div class="b" style="left:2179.30px;top:1037.20px;width:735.00px;height:1.20px;background:#e5e7eb;"></div>
<div class="t" style="top:1062.50px;font-size:22.21px;line-height:22.21px;font-weight:400;color:#64748b;left:2179.30px;">10 positions (1W / 9L)</div>
<div class="t" style="top:1060.22px;font-size:24.9px;line-height:24.9px;font-weight:700;color:#c52f2f;right:888.00px;text-align:right;">$-52517</div>
<svg class="b" style="left:3000px;top:515px" width="210" height="40" viewBox="3000 515 210 40" fill="none" stroke="#5b6577" stroke-width="2.2" stroke-linecap="round" stroke-linejoin="round"><polyline points="3019,526 3010.2,534.2 3019,542.4"/><polyline points="3189.8,526 3198.6,534.2 3189.8,542.4"/></svg>
<div class="t" style="top:523.89px;font-size:24.94px;line-height:24.94px;font-weight:700;color:#0f172a;left:3051.00px;">Oct 2023</div>
<div class="t" style="top:526.81px;font-size:19.36px;line-height:19.36px;font-weight:400;color:#2d5fd3;left:3691.00px;">Full</div>
<svg class="b" style="left:3730.4px;top:531.3px" width="18" height="12" viewBox="0 0 18 12" fill="none" stroke="#2d5fd3" stroke-width="1.9" stroke-linecap="round" stroke-linejoin="round"><path d="M2 6h14.5"/><path d="M12.6 2.2 16.4 6 12.6 9.8"/></svg>
<div class="t" style="top:578.59px;font-size:16.2px;line-height:16.2px;font-weight:400;color:#64748b;left:2750.00px;width:600px;text-align:center;-webkit-text-stroke:0.6px #64748b;">S</div>
<div class="t" style="top:578.59px;font-size:16.2px;line-height:16.2px;font-weight:400;color:#64748b;left:2858.00px;width:600px;text-align:center;-webkit-text-stroke:0.6px #64748b;">M</div>
<div class="t" style="top:578.59px;font-size:16.2px;line-height:16.2px;font-weight:400;color:#64748b;left:2965.90px;width:600px;text-align:center;-webkit-text-stroke:0.6px #64748b;">T</div>
<div class="t" style="top:578.59px;font-size:16.2px;line-height:16.2px;font-weight:400;color:#64748b;left:3073.80px;width:600px;text-align:center;-webkit-text-stroke:0.6px #64748b;">W</div>
<div class="t" style="top:578.59px;font-size:16.2px;line-height:16.2px;font-weight:400;color:#64748b;left:3181.60px;width:600px;text-align:center;-webkit-text-stroke:0.6px #64748b;">T</div>
<div class="t" style="top:578.59px;font-size:16.2px;line-height:16.2px;font-weight:400;color:#64748b;left:3289.50px;width:600px;text-align:center;-webkit-text-stroke:0.6px #64748b;">F</div>
<div class="t" style="top:578.59px;font-size:16.2px;line-height:16.2px;font-weight:400;color:#64748b;left:3397.00px;width:600px;text-align:center;-webkit-text-stroke:0.6px #64748b;">S</div>
<div class="b" style="left:3106.00px;top:604.20px;width:103.60px;height:103.40px;background:#bfead9;border-radius:8px;"></div>
<div class="t" style="top:636.15px;font-size:20.5px;line-height:20.5px;font-weight:400;color:#0f172a;left:2857.80px;width:600px;text-align:center;-webkit-text-stroke:0.35px #0f172a;">2</div>
<div class="t" style="top:661.24px;font-size:14.6px;line-height:14.6px;font-weight:400;color:#44b688;left:2857.80px;width:600px;text-align:center;">+0.6%</div>
<div class="b" style="left:3213.85px;top:604.20px;width:103.60px;height:103.40px;background:#f9c6ce;border-radius:8px;"></div>
<div class="t" style="top:636.15px;font-size:20.5px;line-height:20.5px;font-weight:400;color:#0f172a;left:2965.65px;width:600px;text-align:center;-webkit-text-stroke:0.35px #0f172a;">3</div>
<div class="t" style="top:661.24px;font-size:14.6px;line-height:14.6px;font-weight:400;color:#e2687c;left:2965.65px;width:600px;text-align:center;">-0.5%</div>
<div class="b" style="left:3321.70px;top:604.20px;width:103.60px;height:103.40px;background:#bfead9;border-radius:8px;"></div>
<div class="t" style="top:636.15px;font-size:20.5px;line-height:20.5px;font-weight:400;color:#0f172a;left:3073.50px;width:600px;text-align:center;-webkit-text-stroke:0.35px #0f172a;">4</div>
<div class="t" style="top:661.24px;font-size:14.6px;line-height:14.6px;font-weight:400;color:#44b688;left:3073.50px;width:600px;text-align:center;">+0.4%</div>
<div class="b" style="left:3429.55px;top:604.20px;width:103.60px;height:103.40px;background:#bfead9;border-radius:8px;"></div>
<div class="t" style="top:636.15px;font-size:20.5px;line-height:20.5px;font-weight:400;color:#0f172a;left:3181.35px;width:600px;text-align:center;-webkit-text-stroke:0.35px #0f172a;">5</div>
<div class="t" style="top:661.24px;font-size:14.6px;line-height:14.6px;font-weight:400;color:#44b688;left:3181.35px;width:600px;text-align:center;">+0.5%</div>
<div class="b" style="left:3537.40px;top:604.20px;width:103.60px;height:103.40px;background:#bfead9;border-radius:8px;"></div>
<div class="t" style="top:636.15px;font-size:20.5px;line-height:20.5px;font-weight:400;color:#0f172a;left:3289.20px;width:600px;text-align:center;-webkit-text-stroke:0.35px #0f172a;">6</div>
<div class="t" style="top:661.24px;font-size:14.6px;line-height:14.6px;font-weight:400;color:#44b688;left:3289.20px;width:600px;text-align:center;">+0.5%</div>
<div class="t" style="top:645.52px;font-size:21px;line-height:21px;font-weight:400;color:#0f172a;left:2750.00px;width:600px;text-align:center;-webkit-text-stroke:0.4px #0f172a;">1</div>
<div class="t" style="top:645.52px;font-size:21px;line-height:21px;font-weight:400;color:#0f172a;left:3397.00px;width:600px;text-align:center;-webkit-text-stroke:0.4px #0f172a;">7</div>
<div class="b" style="left:3106.00px;top:712.20px;width:103.60px;height:103.40px;background:#bfead9;border-radius:8px;"></div>
<div class="t" style="top:744.15px;font-size:20.5px;line-height:20.5px;font-weight:400;color:#0f172a;left:2857.80px;width:600px;text-align:center;-webkit-text-stroke:0.35px #0f172a;">9</div>
<div class="t" style="top:769.24px;font-size:14.6px;line-height:14.6px;font-weight:400;color:#44b688;left:2857.80px;width:600px;text-align:center;">+0.4%</div>
<div class="b" style="left:3213.85px;top:712.20px;width:103.60px;height:103.40px;background:#bfead9;border-radius:8px;"></div>
<div class="t" style="top:744.15px;font-size:20.5px;line-height:20.5px;font-weight:400;color:#0f172a;left:2965.65px;width:600px;text-align:center;-webkit-text-stroke:0.35px #0f172a;">10</div>
<div class="t" style="top:769.24px;font-size:14.6px;line-height:14.6px;font-weight:400;color:#44b688;left:2965.65px;width:600px;text-align:center;">+0.4%</div>
<div class="b" style="left:3321.70px;top:712.20px;width:103.60px;height:103.40px;background:#bfead9;border-radius:8px;"></div>
<div class="t" style="top:744.15px;font-size:20.5px;line-height:20.5px;font-weight:400;color:#0f172a;left:3073.50px;width:600px;text-align:center;-webkit-text-stroke:0.35px #0f172a;">11</div>
<div class="t" style="top:769.24px;font-size:14.6px;line-height:14.6px;font-weight:400;color:#44b688;left:3073.50px;width:600px;text-align:center;">+0.5%</div>
<div class="b" style="left:3429.55px;top:712.20px;width:103.60px;height:103.40px;background:#bfead9;border-radius:8px;"></div>
<div class="t" style="top:744.15px;font-size:20.5px;line-height:20.5px;font-weight:400;color:#0f172a;left:3181.35px;width:600px;text-align:center;-webkit-text-stroke:0.35px #0f172a;">12</div>
<div class="t" style="top:769.24px;font-size:14.6px;line-height:14.6px;font-weight:400;color:#44b688;left:3181.35px;width:600px;text-align:center;">+0.4%</div>
<div class="b" style="left:3537.40px;top:712.20px;width:103.60px;height:103.40px;background:#bfead9;border-radius:8px;"></div>
<div class="t" style="top:744.15px;font-size:20.5px;line-height:20.5px;font-weight:400;color:#0f172a;left:3289.20px;width:600px;text-align:center;-webkit-text-stroke:0.35px #0f172a;">13</div>
<div class="t" style="top:769.24px;font-size:14.6px;line-height:14.6px;font-weight:400;color:#44b688;left:3289.20px;width:600px;text-align:center;">+0.3%</div>
<div class="t" style="top:753.52px;font-size:21px;line-height:21px;font-weight:400;color:#0f172a;left:2750.00px;width:600px;text-align:center;-webkit-text-stroke:0.4px #0f172a;">8</div>
<div class="t" style="top:753.52px;font-size:21px;line-height:21px;font-weight:400;color:#0f172a;left:3397.00px;width:600px;text-align:center;-webkit-text-stroke:0.4px #0f172a;">14</div>
<div class="b" style="left:3106.00px;top:820.20px;width:103.60px;height:103.40px;background:#bfead9;border-radius:8px;"></div>
<div class="t" style="top:852.15px;font-size:20.5px;line-height:20.5px;font-weight:400;color:#0f172a;left:2857.80px;width:600px;text-align:center;-webkit-text-stroke:0.35px #0f172a;">16</div>
<div class="t" style="top:877.24px;font-size:14.6px;line-height:14.6px;font-weight:400;color:#44b688;left:2857.80px;width:600px;text-align:center;">+0.6%</div>
<div class="b" style="left:3213.85px;top:820.20px;width:103.60px;height:103.40px;background:#bfead9;border-radius:8px;"></div>
<div class="t" style="top:852.15px;font-size:20.5px;line-height:20.5px;font-weight:400;color:#0f172a;left:2965.65px;width:600px;text-align:center;-webkit-text-stroke:0.35px #0f172a;">17</div>
<div class="t" style="top:877.24px;font-size:14.6px;line-height:14.6px;font-weight:400;color:#44b688;left:2965.65px;width:600px;text-align:center;">+0.4%</div>
<div class="b" style="left:3321.70px;top:820.20px;width:103.60px;height:103.40px;background:#bfead9;border-radius:8px;"></div>
<div class="t" style="top:852.15px;font-size:20.5px;line-height:20.5px;font-weight:400;color:#0f172a;left:3073.50px;width:600px;text-align:center;-webkit-text-stroke:0.35px #0f172a;">18</div>
<div class="t" style="top:877.24px;font-size:14.6px;line-height:14.6px;font-weight:400;color:#44b688;left:3073.50px;width:600px;text-align:center;">+0.1%</div>
<div class="b" style="left:3429.55px;top:820.20px;width:103.60px;height:103.40px;background:#bfead9;border-radius:8px;"></div>
<div class="t" style="top:852.15px;font-size:20.5px;line-height:20.5px;font-weight:400;color:#0f172a;left:3181.35px;width:600px;text-align:center;-webkit-text-stroke:0.35px #0f172a;">19</div>
<div class="t" style="top:877.24px;font-size:14.6px;line-height:14.6px;font-weight:400;color:#44b688;left:3181.35px;width:600px;text-align:center;">+0.5%</div>
<div class="b" style="left:3537.40px;top:820.20px;width:103.60px;height:103.40px;background:#bfead9;border-radius:8px;"></div>
<div class="t" style="top:852.15px;font-size:20.5px;line-height:20.5px;font-weight:400;color:#0f172a;left:3289.20px;width:600px;text-align:center;-webkit-text-stroke:0.35px #0f172a;">20</div>
<div class="t" style="top:877.24px;font-size:14.6px;line-height:14.6px;font-weight:400;color:#44b688;left:3289.20px;width:600px;text-align:center;">+0.5%</div>
<div class="t" style="top:861.52px;font-size:21px;line-height:21px;font-weight:400;color:#0f172a;left:2750.00px;width:600px;text-align:center;-webkit-text-stroke:0.4px #0f172a;">15</div>
<div class="t" style="top:861.52px;font-size:21px;line-height:21px;font-weight:400;color:#0f172a;left:3397.00px;width:600px;text-align:center;-webkit-text-stroke:0.4px #0f172a;">21</div>
<div class="b" style="left:3106.00px;top:928.20px;width:103.60px;height:103.40px;background:#bfead9;border-radius:8px;"></div>
<div class="t" style="top:960.15px;font-size:20.5px;line-height:20.5px;font-weight:400;color:#0f172a;left:2857.80px;width:600px;text-align:center;-webkit-text-stroke:0.35px #0f172a;">23</div>
<div class="t" style="top:985.24px;font-size:14.6px;line-height:14.6px;font-weight:400;color:#44b688;left:2857.80px;width:600px;text-align:center;">+0.6%</div>
<div class="b" style="left:3213.85px;top:928.20px;width:103.60px;height:103.40px;background:#bfead9;border-radius:8px;"></div>
<div class="t" style="top:960.15px;font-size:20.5px;line-height:20.5px;font-weight:400;color:#0f172a;left:2965.65px;width:600px;text-align:center;-webkit-text-stroke:0.35px #0f172a;">24</div>
<div class="t" style="top:985.24px;font-size:14.6px;line-height:14.6px;font-weight:400;color:#44b688;left:2965.65px;width:600px;text-align:center;">+0.5%</div>
<div class="b" style="left:3321.70px;top:928.20px;width:103.60px;height:103.40px;background:#f9c6ce;border-radius:8px;"></div>
<div class="t" style="top:960.15px;font-size:20.5px;line-height:20.5px;font-weight:400;color:#0f172a;left:3073.50px;width:600px;text-align:center;-webkit-text-stroke:0.35px #0f172a;">25</div>
<div class="t" style="top:985.24px;font-size:14.6px;line-height:14.6px;font-weight:400;color:#e2687c;left:3073.50px;width:600px;text-align:center;">-1.5%</div>
<div class="b" style="left:3429.55px;top:928.20px;width:103.60px;height:103.40px;background:#f9c6ce;border-radius:8px;"></div>
<div class="t" style="top:960.15px;font-size:20.5px;line-height:20.5px;font-weight:400;color:#0f172a;left:3181.35px;width:600px;text-align:center;-webkit-text-stroke:0.35px #0f172a;">26</div>
<div class="t" style="top:985.24px;font-size:14.6px;line-height:14.6px;font-weight:400;color:#e2687c;left:3181.35px;width:600px;text-align:center;">-0.2%</div>
<div class="b" style="left:3537.40px;top:928.20px;width:103.60px;height:103.40px;background:#bfead9;border-radius:8px;"></div>
<div class="t" style="top:960.15px;font-size:20.5px;line-height:20.5px;font-weight:400;color:#0f172a;left:3289.20px;width:600px;text-align:center;-webkit-text-stroke:0.35px #0f172a;">27</div>
<div class="t" style="top:985.24px;font-size:14.6px;line-height:14.6px;font-weight:400;color:#44b688;left:3289.20px;width:600px;text-align:center;">+0.6%</div>
<div class="t" style="top:969.52px;font-size:21px;line-height:21px;font-weight:400;color:#0f172a;left:2750.00px;width:600px;text-align:center;-webkit-text-stroke:0.4px #0f172a;">22</div>
<div class="t" style="top:969.52px;font-size:21px;line-height:21px;font-weight:400;color:#0f172a;left:3397.00px;width:600px;text-align:center;-webkit-text-stroke:0.4px #0f172a;">28</div>
<div class="b" style="left:3106.00px;top:1036.20px;width:103.60px;height:103.40px;background:#bfead9;border-radius:8px;"></div>
<div class="t" style="top:1068.15px;font-size:20.5px;line-height:20.5px;font-weight:400;color:#0f172a;left:2857.80px;width:600px;text-align:center;-webkit-text-stroke:0.35px #0f172a;">30</div>
<div class="t" style="top:1093.24px;font-size:14.6px;line-height:14.6px;font-weight:400;color:#44b688;left:2857.80px;width:600px;text-align:center;">+0.6%</div>
<div class="b" style="left:3213.85px;top:1036.20px;width:103.60px;height:103.40px;background:#bfead9;border-radius:8px;"></div>
<div class="t" style="top:1068.15px;font-size:20.5px;line-height:20.5px;font-weight:400;color:#0f172a;left:2965.65px;width:600px;text-align:center;-webkit-text-stroke:0.35px #0f172a;">31</div>
<div class="t" style="top:1093.24px;font-size:14.6px;line-height:14.6px;font-weight:400;color:#44b688;left:2965.65px;width:600px;text-align:center;">+0.5%</div>
<div class="b" style="left:3321.70px;top:1036.20px;width:103.60px;height:103.40px;background:#bfead9;border-radius:8px;"></div>
<div class="t" style="top:1068.15px;font-size:20.5px;line-height:20.5px;font-weight:400;color:#93aaa6;left:3073.50px;width:600px;text-align:center;-webkit-text-stroke:0.35px #93aaa6;">1</div>
<div class="t" style="top:1093.24px;font-size:14.6px;line-height:14.6px;font-weight:400;color:#44b688;left:3073.50px;width:600px;text-align:center;">+0.5%</div>
<div class="b" style="left:3429.55px;top:1036.20px;width:103.60px;height:103.40px;background:#bfead9;border-radius:8px;"></div>
<div class="t" style="top:1068.15px;font-size:20.5px;line-height:20.5px;font-weight:400;color:#93aaa6;left:3181.35px;width:600px;text-align:center;-webkit-text-stroke:0.35px #93aaa6;">2</div>
<div class="t" style="top:1093.24px;font-size:14.6px;line-height:14.6px;font-weight:400;color:#44b688;left:3181.35px;width:600px;text-align:center;">+0.4%</div>
<div class="b" style="left:3537.40px;top:1036.20px;width:103.60px;height:103.40px;background:#bfead9;border-radius:8px;"></div>
<div class="t" style="top:1068.15px;font-size:20.5px;line-height:20.5px;font-weight:400;color:#93aaa6;left:3289.20px;width:600px;text-align:center;-webkit-text-stroke:0.35px #93aaa6;">3</div>
<div class="t" style="top:1093.24px;font-size:14.6px;line-height:14.6px;font-weight:400;color:#44b688;left:3289.20px;width:600px;text-align:center;">+0.4%</div>
<div class="t" style="top:1077.52px;font-size:21px;line-height:21px;font-weight:400;color:#0f172a;left:2750.00px;width:600px;text-align:center;-webkit-text-stroke:0.4px #0f172a;">29</div>
<div class="t" style="top:1077.52px;font-size:21px;line-height:21px;font-weight:400;color:#b8c0cc;left:3397.00px;width:600px;text-align:center;-webkit-text-stroke:0.4px #b8c0cc;">4</div>
<div class="b" style="left:3309px;top:1161px;width:14.8px;height:14.8px;border-radius:50%;background:#aee6d1;"></div>
<div class="b" style="left:3383px;top:1161px;width:14.8px;height:14.8px;border-radius:50%;background:#f8c0ca;"></div>
<div class="t" style="top:1160.66px;font-size:18.0px;line-height:18.0px;font-weight:400;color:#64748b;left:3329.00px;">Win</div>
<div class="t" style="top:1162.27px;font-size:16.1px;line-height:16.1px;font-weight:400;color:#64748b;left:3403.00px;">Loss</div>
<div class="t" style="top:1490.99px;font-size:30.85px;line-height:30.85px;font-weight:700;color:#0f172a;left:496.00px;">Trades</div>
<div class="t" style="top:1490.39px;font-size:26.0px;line-height:26.0px;font-weight:400;color:#6b7280;right:31.00px;text-align:right;">Showing 1-10 of 1324</div>
<div class="b" style="left:495.10px;top:1552.20px;width:839.50px;height:66.20px;background:#f8fafc;border:1px solid #e2e8f0;border-radius:12px;box-sizing:border-box;"></div>
<div class="t" style="top:1574.84px;font-size:25.12px;line-height:25.12px;font-weight:400;color:#6b7a90;left:519.80px;">Search trades by symbol, side, notes, price, P/L...</div>
<div class="b" style="left:495.00px;top:1649.00px;width:3276.00px;height:52.50px;background:#f1f4f8;"></div>
<div class="t" style="top:1664.84px;font-size:25.0px;line-height:25.0px;font-weight:700;color:#0f172a;left:510.40px;">Symbol</div>
<svg class="b" style="left:617.3px;top:1665px" width="12" height="28" viewBox="0 0 12 28" fill="none" stroke="#9ca3af" stroke-width="1.3" stroke-linecap="round" stroke-linejoin="round"><path d="M6 2.7v22.7"/><path d="M2.4 7.3 6 3 9.6 7.3"/><path d="M2.4 20.8 6 25.2 9.6 20.8"/></svg>
<div class="t" style="top:1664.35px;font-size:25.58px;line-height:25.58px;font-weight:700;color:#0f172a;left:794.20px;">Date Entered</div>
<svg class="b" style="left:969.5px;top:1665px" width="12" height="28" viewBox="0 0 12 28" fill="none" stroke="#9ca3af" stroke-width="1.3" stroke-linecap="round" stroke-linejoin="round"><path d="M6 2.7v22.7"/><path d="M2.4 7.3 6 3 9.6 7.3"/><path d="M2.4 20.8 6 25.2 9.6 20.8"/></svg>
<div class="t" style="top:1664.97px;font-size:24.84px;line-height:24.84px;font-weight:700;color:#0f172a;left:1205.70px;">Asset Type</div>
<svg class="b" style="left:1351.5px;top:1665px" width="12" height="28" viewBox="0 0 12 28" fill="none" stroke="#9ca3af" stroke-width="1.3" stroke-linecap="round" stroke-linejoin="round"><path d="M6 2.7v22.7"/><path d="M2.4 7.3 6 3 9.6 7.3"/><path d="M2.4 20.8 6 25.2 9.6 20.8"/></svg>
<div class="t" style="top:1664.91px;font-size:24.91px;line-height:24.91px;font-weight:700;color:#0f172a;left:1564.00px;">Side</div>
<svg class="b" style="left:1632.0px;top:1665px" width="12" height="28" viewBox="0 0 12 28" fill="none" stroke="#9ca3af" stroke-width="1.3" stroke-linecap="round" stroke-linejoin="round"><path d="M6 2.7v22.7"/><path d="M2.4 7.3 6 3 9.6 7.3"/><path d="M2.4 20.8 6 25.2 9.6 20.8"/></svg>
<div class="t" style="top:1665.90px;font-size:23.74px;line-height:23.74px;font-weight:700;color:#0f172a;left:1897.40px;">Shares</div>
<svg class="b" style="left:1992.7px;top:1665px" width="12" height="28" viewBox="0 0 12 28" fill="none" stroke="#9ca3af" stroke-width="1.3" stroke-linecap="round" stroke-linejoin="round"><path d="M6 2.7v22.7"/><path d="M2.4 7.3 6 3 9.6 7.3"/><path d="M2.4 20.8 6 25.2 9.6 20.8"/></svg>
<div class="t" style="top:1664.52px;font-size:25.37px;line-height:25.37px;font-weight:700;color:#0f172a;left:2166.00px;">Entry $</div>
<svg class="b" style="left:2268.8px;top:1665px" width="12" height="28" viewBox="0 0 12 28" fill="none" stroke="#9ca3af" stroke-width="1.3" stroke-linecap="round" stroke-linejoin="round"><path d="M6 2.7v22.7"/><path d="M2.4 7.3 6 3 9.6 7.3"/><path d="M2.4 20.8 6 25.2 9.6 20.8"/></svg>
<div class="t" style="top:1664.52px;font-size:25.37px;line-height:25.37px;font-weight:700;color:#0f172a;left:2424.00px;">Exit $</div>
<svg class="b" style="left:2506.7px;top:1665px" width="12" height="28" viewBox="0 0 12 28" fill="none" stroke="#9ca3af" stroke-width="1.3" stroke-linecap="round" stroke-linejoin="round"><path d="M6 2.7v22.7"/><path d="M2.4 7.3 6 3 9.6 7.3"/><path d="M2.4 20.8 6 25.2 9.6 20.8"/></svg>
<div class="t" style="top:1663.87px;font-size:26.14px;line-height:26.14px;font-weight:700;color:#0f172a;left:2703.60px;">P/L $</div>
<svg class="b" style="left:2783.0px;top:1665px" width="12" height="28" viewBox="0 0 12 28" fill="none" stroke="#9ca3af" stroke-width="1.3" stroke-linecap="round" stroke-linejoin="round"><path d="M6 2.7v22.7"/><path d="M2.4 7.3 6 3 9.6 7.3"/><path d="M2.4 20.8 6 25.2 9.6 20.8"/></svg>
<div class="t" style="top:1664.43px;font-size:25.48px;line-height:25.48px;font-weight:700;color:#0f172a;left:2901.00px;">Win/Loss</div>
<svg class="b" style="left:3030.0px;top:1665px" width="12" height="28" viewBox="0 0 12 28" fill="none" stroke="#9ca3af" stroke-width="1.3" stroke-linecap="round" stroke-linejoin="round"><path d="M6 2.7v22.7"/><path d="M2.4 7.3 6 3 9.6 7.3"/><path d="M2.4 20.8 6 25.2 9.6 20.8"/></svg>
<div class="t" style="top:1664.07px;font-size:25.91px;line-height:25.91px;font-weight:700;color:#0f172a;left:3149.70px;">Notes</div>
<div class="t" style="top:1664.69px;font-size:25.17px;line-height:25.17px;font-weight:700;color:#0f172a;left:3504.00px;">Actions</div>
<div class="b" style="left:495.00px;top:1776.80px;width:3276.00px;height:1.20px;background:#e5e9ef;"></div>
<div class="t" style="top:1728.11px;font-size:25.5px;line-height:25.5px;font-weight:400;color:#0f172a;left:510.60px;">JOBY</div>
<div class="t" style="top:1728.11px;font-size:25.5px;line-height:25.5px;font-weight:400;color:#0f172a;left:793.80px;">Aug 24, 2024</div>
<div class="t" style="top:1728.11px;font-size:25.5px;line-height:25.5px;font-weight:400;color:#0f172a;left:1205.40px;">Stock</div>
<div class="t" style="top:1728.11px;font-size:25.5px;line-height:25.5px;font-weight:400;color:#0f172a;left:1564.50px;">long</div>
<div class="t" style="top:1728.11px;font-size:25.5px;line-height:25.5px;font-weight:400;color:#0f172a;right:1797.60px;text-align:right;">50</div>
<div class="t" style="top:1728.11px;font-size:25.5px;line-height:25.5px;font-weight:400;color:#0f172a;right:1521.70px;text-align:right;">6.43</div>
<div class="t" style="top:1728.11px;font-size:25.5px;line-height:25.5px;font-weight:400;color:#0f172a;right:1282.30px;text-align:right;">6.86</div>
<div class="t" style="top:1728.11px;font-size:25.5px;line-height:25.5px;font-weight:400;color:#0f172a;right:1008.00px;text-align:right;">21.50</div>
<div class="t" style="top:1728.07px;font-size:25.55px;line-height:25.55px;font-weight:700;color:#2f9e58;left:2672.00px;width:600px;text-align:center;">Win</div>
<div class="t" style="top:1728.11px;font-size:25.5px;line-height:25.5px;font-weight:400;color:#0f172a;left:3148.40px;">—</div>
<div class="b" style="left:3448.20px;top:1709.50px;width:85.40px;height:58.80px;background:#f6f7f9;border:1px solid #e3e6ea;border-radius:11px;box-sizing:border-box;"></div>
<div class="b" style="left:3542.30px;top:1709.50px;width:110.40px;height:58.80px;background:#f08e8e;border-radius:11px;"></div>
<div class="t" style="top:1730.83px;font-size:20.17px;line-height:20.17px;font-weight:700;color:#0f172a;left:3472.70px;">Edit</div>
<div class="t" style="top:1729.71px;font-size:21.49px;line-height:21.49px;font-weight:700;color:#ffffff;left:3565.50px;">Delete</div>
<div class="b" style="left:495.00px;top:1853.40px;width:3276.00px;height:1.20px;background:#e5e9ef;"></div>
<div class="t" style="top:1804.41px;font-size:25.5px;line-height:25.5px;font-weight:400;color:#0f172a;left:510.60px;">SPY</div>
<div class="t" style="top:1804.41px;font-size:25.5px;line-height:25.5px;font-weight:400;color:#0f172a;left:793.80px;">Aug 23, 2024</div>
<div class="t" style="top:1804.41px;font-size:25.5px;line-height:25.5px;font-weight:400;color:#0f172a;left:1205.40px;">Stock</div>
<div class="t" style="top:1804.41px;font-size:25.5px;line-height:25.5px;font-weight:400;color:#0f172a;left:1564.50px;">short</div>
<div class="t" style="top:1804.41px;font-size:25.5px;line-height:25.5px;font-weight:400;color:#0f172a;right:1797.60px;text-align:right;">10</div>
<div class="t" style="top:1804.41px;font-size:25.5px;line-height:25.5px;font-weight:400;color:#0f172a;right:1521.70px;text-align:right;">563.00</div>
<div class="t" style="top:1804.41px;font-size:25.5px;line-height:25.5px;font-weight:400;color:#0f172a;right:1282.30px;text-align:right;">—</div>
<div class="t" style="top:1804.41px;font-size:25.5px;line-height:25.5px;font-weight:400;color:#0f172a;right:1008.00px;text-align:right;">—</div>
<div class="t" style="top:1804.41px;font-size:25.5px;line-height:25.5px;font-weight:400;color:#9aa3af;left:2672.00px;width:600px;text-align:center;">—</div>
<div class="t" style="top:1804.41px;font-size:25.5px;line-height:25.5px;font-weight:400;color:#0f172a;left:3148.40px;">—</div>
<div class="b" style="left:3448.20px;top:1785.80px;width:85.40px;height:58.80px;background:#f6f7f9;border:1px solid #e3e6ea;border-radius:11px;box-sizing:border-box;"></div>
<div class="b" style="left:3542.30px;top:1785.80px;width:110.40px;height:58.80px;background:#f08e8e;border-radius:11px;"></div>
<div class="t" style="top:1807.13px;font-size:20.17px;line-height:20.17px;font-weight:700;color:#0f172a;left:3472.70px;">Edit</div>
<div class="t" style="top:1806.01px;font-size:21.49px;line-height:21.49px;font-weight:700;color:#ffffff;left:3565.50px;">Delete</div>
<div class="b" style="left:495.00px;top:1930.00px;width:3276.00px;height:1.20px;background:#e5e9ef;"></div>
<div class="t" style="top:1880.71px;font-size:25.5px;line-height:25.5px;font-weight:400;color:#0f172a;left:510.60px;">SPY</div>
<div class="t" style="top:1880.71px;font-size:25.5px;line-height:25.5px;font-weight:400;color:#0f172a;left:793.80px;">Aug 22, 2024</div>
<div class="t" style="top:1880.71px;font-size:25.5px;line-height:25.5px;font-weight:400;color:#0f172a;left:1205.40px;">Put Option</div>
<div class="t" style="top:1880.71px;font-size:25.5px;line-height:25.5px;font-weight:400;color:#0f172a;left:1564.50px;">short</div>
<div class="t" style="top:1880.71px;font-size:25.5px;line-height:25.5px;font-weight:400;color:#0f172a;right:1797.60px;text-align:right;">10</div>
<div class="t" style="top:1880.71px;font-size:25.5px;line-height:25.5px;font-weight:400;color:#0f172a;right:1521.70px;text-align:right;">75.00</div>
<div class="t" style="top:1880.71px;font-size:25.5px;line-height:25.5px;font-weight:400;color:#0f172a;right:1282.30px;text-align:right;">50.00</div>
<div class="t" style="top:1880.71px;font-size:25.5px;line-height:25.5px;font-weight:400;color:#0f172a;right:1008.00px;text-align:right;">24990.00</div>
<div class="t" style="top:1880.67px;font-size:25.55px;line-height:25.55px;font-weight:700;color:#2f9e58;left:2672.00px;width:600px;text-align:center;">Win</div>
<div class="t" style="top:1880.71px;font-size:25.5px;line-height:25.5px;font-weight:400;color:#0f172a;left:3148.40px;">—</div>
<div class="b" style="left:3448.20px;top:1862.10px;width:85.40px;height:58.80px;background:#f6f7f9;border:1px solid #e3e6ea;border-radius:11px;box-sizing:border-box;"></div>
<div class="b" style="left:3542.30px;top:1862.10px;width:110.40px;height:58.80px;background:#f08e8e;border-radius:11px;"></div>
<div class="t" style="top:1883.43px;font-size:20.17px;line-height:20.17px;font-weight:700;color:#0f172a;left:3472.70px;">Edit</div>
<div class="t" style="top:1882.31px;font-size:21.49px;line-height:21.49px;font-weight:700;color:#ffffff;left:3565.50px;">Delete</div>
</body></html>
